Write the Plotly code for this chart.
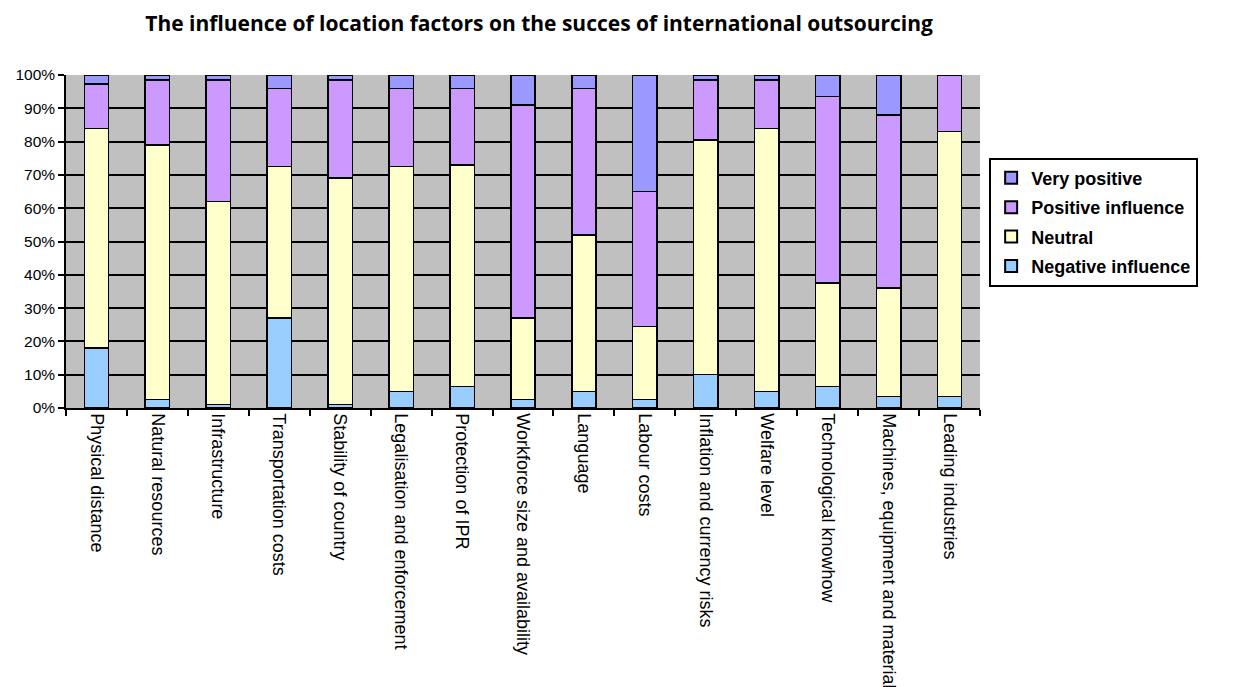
import plotly.graph_objects as go

categories = ["Physical distance", "Natural resources", "Infrastructure", "Transportation costs",
              "Stability of country", "Legalisation and enforcement", "Protection of IPR",
              "Workforce size and availability", "Language", "Labour costs",
              "Inflation and currency risks", "Welfare level", "Technological knowhow",
              "Machines, equipment and material", "Leading industries"]

negative = [18, 2.5, 1, 27, 1, 5, 6.5, 2.5, 5, 2.5, 10, 5, 6.5, 3.5, 3.5]
neutral = [66, 76.5, 61, 45.5, 68, 67.5, 66.5, 24.5, 47, 22, 70.5, 79, 31, 32.5, 79.5]
positive = [13.3, 19.5, 36.5, 23.5, 29.5, 23.5, 23, 64, 44, 40.5, 18, 14.5, 56, 52, 17]
very_positive = [2.7, 1.5, 1.5, 4, 1.5, 4, 4, 9, 4, 35, 1.5, 1.5, 6.5, 12, 0]

series = [
    ("Negative influence", negative, "#99CCFF"),
    ("Neutral", neutral, "#FFFFCC"),
    ("Positive influence", positive, "#CC99FF"),
    ("Very positive", very_positive, "#9999FF"),
]

fig = go.Figure()
for i, (name, vals, col) in enumerate(series):
    fig.add_trace(go.Bar(
        x=categories, y=[v / 100 for v in vals], name="<b>" + name + "</b>",
        legendgroup=name, legendrank=100 - i,
        marker=dict(color=col, line=dict(color="black", width=1.5)),
    ))

fig.update_layout(
    barmode="stack",
    bargap=0.6,
    width=1235, height=687,
    paper_bgcolor="white",
    plot_bgcolor="#C0C0C0",
    margin=dict(l=58, r=263, t=67, b=287, autoexpand=False),
    font=dict(family="Arial, Liberation Sans, sans-serif", color="black", size=13),
    title=dict(text="<b>The influence of location factors on the succes of international outsourcing</b>",
               x=0.43, xanchor="center", y=0.977, yanchor="middle",
               font=dict(size=21, color="black", family="Open Sans, sans-serif")),
    legend=dict(
        x=1.01, xanchor="left", y=0.752, yanchor="top",
        traceorder="grouped",
        bordercolor="black", borderwidth=2, bgcolor="white",
        font=dict(size=18, family="Arial, Liberation Sans, sans-serif"),
        itemsizing="constant",
        tracegroupgap=3,
        entrywidth=225, entrywidthmode="pixels",
    ),
    showlegend=True,
)
fig.update_xaxes(
    tickangle=90, ticks="outside", tickson="boundaries", ticklen=6,
    tickcolor="black", tickwidth=1.5,
    showline=True, linecolor="black", linewidth=1.5,
    showgrid=False, tickfont=dict(size=18), automargin=False,
)
fig.update_yaxes(
    range=[0, 1], tickvals=[i / 10 for i in range(11)], tickformat=".0%",
    ticks="outside", ticklen=6, tickcolor="black", tickwidth=1.5,
    showline=True, linecolor="black", linewidth=1.5,
    showgrid=True, gridcolor="black", gridwidth=1.5,
    tickfont=dict(size=15.5), zeroline=False, automargin=False,
)

fig.write_html("out.html")
